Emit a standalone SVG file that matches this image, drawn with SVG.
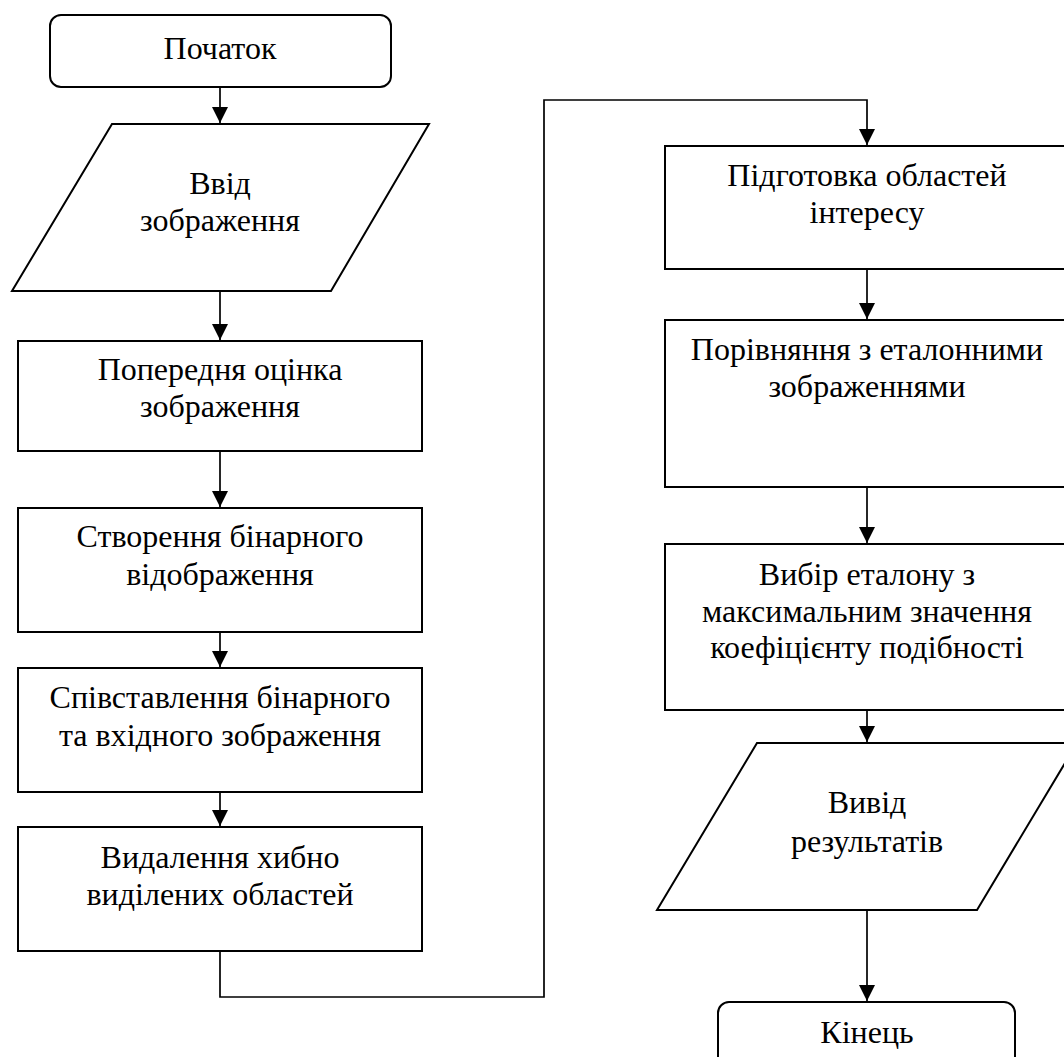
<svg xmlns="http://www.w3.org/2000/svg" width="1064" height="1057" viewBox="0 0 1064 1057">
<style>
.s{fill:#fff;stroke:#000;stroke-width:2}
.t{font-family:"Liberation Serif","Times New Roman",serif;font-size:32px;text-anchor:middle;fill:#000}
.c{fill:none;stroke:#000;stroke-width:1.7}
</style>
<defs>
<marker id="ah" markerUnits="userSpaceOnUse" markerWidth="16" markerHeight="16" refX="16" refY="8" orient="auto">
<path d="M0,0 L16,8 L0,16 Z" fill="#000"/>
</marker>
</defs>
<rect width="1064" height="1057" fill="#fff"/>
<g id="connectors">
<path class="c" d="M220,87 V123" marker-end="url(#ah)"/>
<path class="c" d="M220,291 V340" marker-end="url(#ah)"/>
<path class="c" d="M220,451 V507" marker-end="url(#ah)"/>
<path class="c" d="M220,632 V667" marker-end="url(#ah)"/>
<path class="c" d="M220,792 V826" marker-end="url(#ah)"/>
<path class="c" d="M220,951 V997 H544 V100 H867 V145" marker-end="url(#ah)"/>
<path class="c" d="M867,269 V319" marker-end="url(#ah)"/>
<path class="c" d="M867,487 V543" marker-end="url(#ah)"/>
<path class="c" d="M867,710 V742" marker-end="url(#ah)"/>
<path class="c" d="M867,910 V1001" marker-end="url(#ah)"/>
</g>
<g id="start">
<rect class="s" x="50" y="15" width="341" height="72" rx="11"/>
<text class="t" x="220" y="59">Початок</text>
</g>
<g id="input">
<polygon class="s" points="112,124 429,124 331,291 12,291"/>
<text class="t" x="220" y="194">Ввід</text>
<text class="t" x="220" y="231">зображення</text>
</g>
<g id="preliminary">
<rect class="s" x="18" y="341" width="404" height="110"/>
<text class="t" x="220" y="380">Попередня оцінка</text>
<text class="t" x="220" y="417">зображення</text>
</g>
<g id="binary">
<rect class="s" x="18" y="508" width="404" height="124"/>
<text class="t" x="220" y="547">Створення бінарного</text>
<text class="t" x="220" y="585">відображення</text>
</g>
<g id="compare-binary">
<rect class="s" x="18" y="668" width="404" height="124"/>
<text class="t" x="220" y="708">Співставлення бінарного</text>
<text class="t" x="220" y="746">та вхідного зображення</text>
</g>
<g id="remove-false">
<rect class="s" x="18" y="827" width="404" height="124"/>
<text class="t" x="220" y="868">Видалення хибно</text>
<text class="t" x="220" y="905">виділених областей</text>
</g>
<g id="prepare-roi">
<rect class="s" x="665" y="146" width="404" height="123"/>
<text class="t" x="867" y="186">Підготовка областей</text>
<text class="t" x="867" y="223">інтересу</text>
</g>
<g id="compare-ref">
<rect class="s" x="665" y="320" width="404" height="167"/>
<text class="t" x="867" y="360">Порівняння з еталонними</text>
<text class="t" x="867" y="397">зображеннями</text>
</g>
<g id="select-ref">
<rect class="s" x="665" y="544" width="404" height="166"/>
<text class="t" x="867" y="585">Вибір еталону з</text>
<text class="t" x="867" y="622">максимальним значення</text>
<text class="t" x="867" y="658">коефіцієнту подібності</text>
</g>
<g id="output">
<polygon class="s" points="757,743 1077,743 977,910 657,910"/>
<text class="t" x="867" y="813">Вивід</text>
<text class="t" x="867" y="852">результатів</text>
</g>
<g id="end">
<rect class="s" x="718" y="1002" width="297" height="72" rx="11"/>
<text class="t" x="867" y="1043">Кінець</text>
</g>
</svg>
